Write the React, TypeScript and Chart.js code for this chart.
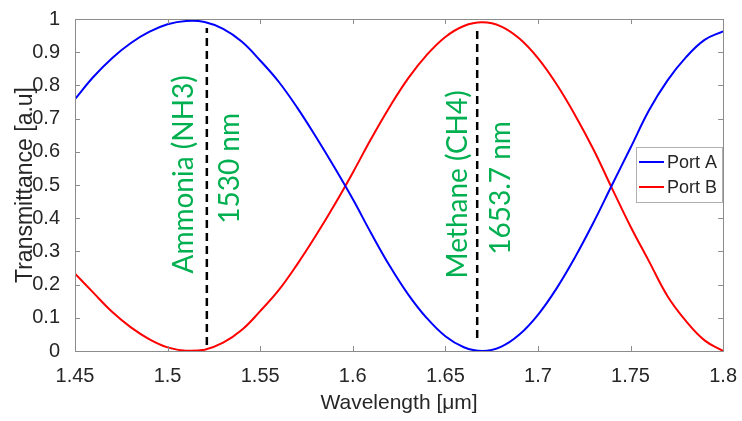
import { useEffect, useRef } from 'react';
import { Chart, registerables } from 'chart.js';

Chart.register(...registerables);

// ---- data ----
const wavelength = [
  1.45, 1.46, 1.47, 1.48, 1.49, 1.5, 1.51, 1.52, 1.53, 1.54, 1.55, 1.56,
  1.57, 1.58, 1.59, 1.6, 1.61, 1.62, 1.63, 1.64, 1.65, 1.66, 1.67, 1.68,
  1.69, 1.7, 1.71, 1.72, 1.73, 1.74, 1.75, 1.76, 1.77, 1.78, 1.79, 1.8,
];
const portA = [
  0.759, 0.826, 0.882, 0.927, 0.961, 0.984, 0.994, 0.991, 0.97, 0.932, 0.875, 0.811,
  0.733, 0.646, 0.554, 0.4575, 0.354, 0.256, 0.17, 0.099, 0.0445, 0.0114, 0.0, 0.0125,
  0.0495, 0.109, 0.188, 0.282, 0.387, 0.5, 0.612, 0.725, 0.815, 0.885, 0.937, 0.963,
];
const portB = [
  0.233, 0.175, 0.118, 0.072, 0.036, 0.011, 0.001, 0.004, 0.025, 0.063, 0.12, 0.183,
  0.261, 0.347, 0.439, 0.537, 0.64, 0.736, 0.822, 0.892, 0.946, 0.979, 0.99, 0.978,
  0.941, 0.882, 0.804, 0.711, 0.607, 0.49, 0.375, 0.27, 0.165, 0.09, 0.032, 0.0,
];
const xTicks = [1.45, 1.5, 1.55, 1.6, 1.65, 1.7, 1.75, 1.8];
const yTicks = [0, 0.1, 0.2, 0.3, 0.4, 0.5, 0.6, 0.7, 0.8, 0.9, 1];
const seriesNames = ['Port A', 'Port B'];
const markerWavelengths = [1.5212, 1.6672];
const ammoniaSpan = [0.018, 0.973];
const methaneSpan = [0.039, 0.979];
const annotations = [
  { text: 'Ammonia (NH3)', x: 1.5135, y: 0.532 },
  { text: '1530 nm', x: 1.5388, y: 0.55 },
  { text: 'Methane (CH4)', x: 1.6616, y: 0.502 },
  { text: '1653.7 nm', x: 1.6851, y: 0.491 },
];

const AXIS_FONT = '"Liberation Sans", Arial, Helvetica, sans-serif';
const TEXT_COLOR = '#262626';
const FRAME_COLOR = '#8c8c8c';

const framePlugin = {
  id: 'frame',
  afterDatasetsDraw(chart: any) {
    const { ctx, chartArea: a, scales } = chart;
    ctx.save();
    ctx.strokeStyle = FRAME_COLOR;
    ctx.lineWidth = 1;
    const tl = 5;
    ctx.beginPath();
    for (const v of xTicks) {
      const px = Math.round(scales.x.getPixelForValue(v)) + 0.5;
      ctx.moveTo(px, a.bottom);
      ctx.lineTo(px, a.bottom - tl);
      ctx.moveTo(px, a.top);
      ctx.lineTo(px, a.top + tl);
    }
    for (const v of yTicks) {
      const py = Math.round(scales.y.getPixelForValue(v)) + 0.5;
      ctx.moveTo(a.left, py);
      ctx.lineTo(a.left + tl, py);
      ctx.moveTo(a.right, py);
      ctx.lineTo(a.right - tl, py);
    }
    ctx.stroke();
    ctx.strokeRect(Math.round(a.left) + 0.5, Math.round(a.top) + 0.5, Math.round(a.right - a.left), Math.round(a.bottom - a.top));
    ctx.restore();
  },
};

const textPlugin = {
  id: 'gasText',
  afterDatasetsDraw(chart: any) {
    const { ctx, scales } = chart;
    ctx.save();
    ctx.fillStyle = '#00B050';
    ctx.font = '28px Lato, "Open Sans", sans-serif';
    ctx.textAlign = 'center';
    ctx.textBaseline = 'alphabetic';
    for (const t of annotations) {
      const px = scales.x.getPixelForValue(t.x);
      const py = scales.y.getPixelForValue(t.y);
      ctx.save();
      ctx.translate(px, py);
      ctx.rotate(-Math.PI / 2);
      ctx.fillText(t.text, 0, 0);
      ctx.restore();
    }
    ctx.restore();
  },
};

const legendPlugin = {
  id: 'boxLegend',
  afterDraw(chart: any) {
    const { ctx } = chart;
    ctx.save();
    const x0 = 636, y0 = 147, w = 86, h = 55;
    ctx.fillStyle = '#ffffff';
    ctx.fillRect(x0, y0, w, h);
    ctx.strokeStyle = '#b0b0b0';
    ctx.lineWidth = 1;
    ctx.strokeRect(x0 + 0.5, y0 + 0.5, w, h);
    const colors = ['#0000ff', '#ff0000'];
    const rows = [162, 187];
    ctx.font = '18px ' + AXIS_FONT;
    ctx.textBaseline = 'middle';
    ctx.textAlign = 'left';
    seriesNames.forEach((name, i) => {
      ctx.strokeStyle = colors[i];
      ctx.lineWidth = 2;
      ctx.beginPath();
      ctx.moveTo(x0 + 3, rows[i]);
      ctx.lineTo(x0 + 28, rows[i]);
      ctx.stroke();
      ctx.fillStyle = TEXT_COLOR;
      ctx.fillText(name, x0 + 31, rows[i] + 1);
    });
    ctx.restore();
  },
};

export default function App() {
  const ref = useRef<HTMLCanvasElement>(null);

  useEffect(() => {
    if (!ref.current) return;
    const chart = new Chart(ref.current, {
      type: 'line',
      data: {
        datasets: [
          {
            label: seriesNames[0],
            data: wavelength.map((x, i) => ({ x, y: portA[i] })),
            borderColor: '#0000ff',
            borderWidth: 2,
            pointRadius: 0,
            tension: 0.4,
            order: 2,
          },
          {
            label: seriesNames[1],
            data: wavelength.map((x, i) => ({ x, y: portB[i] })),
            borderColor: '#ff0000',
            borderWidth: 2,
            pointRadius: 0,
            tension: 0.4,
            order: 2,
          },
          {
            label: 'NH3 marker',
            data: ammoniaSpan.map((y) => ({ x: markerWavelengths[0], y })),
            borderColor: '#000000',
            borderWidth: 2.5,
            borderDash: [8, 5],
            pointRadius: 0,
            order: 1,
          },
          {
            label: 'CH4 marker',
            data: methaneSpan.map((y) => ({ x: markerWavelengths[1], y })),
            borderColor: '#000000',
            borderWidth: 2.5,
            borderDash: [8, 5],
            pointRadius: 0,
            order: 1,
          },
        ],
      },
      options: {
        animation: false,
        responsive: false,
        layout: { padding: { top: 18, right: 17, left: 0, bottom: 0 } },
        plugins: {
          legend: { display: false },
          tooltip: { enabled: false },
        },
        scales: {
          x: {
            type: 'linear',
            min: 1.45,
            max: 1.8,
            afterBuildTicks: (s: any) => {
              s.ticks = xTicks.map((value) => ({ value }));
            },
            afterFit: (s: any) => {
              s.height = 70;
            },
            grid: { display: false },
            border: { display: false },
            ticks: {
              color: TEXT_COLOR,
              padding: 5,
              maxRotation: 0,
              font: { family: AXIS_FONT, size: 20 },
              callback: (v: any) => String(v),
            },
            title: {
              display: true,
              text: 'Wavelength [μm]',
              color: TEXT_COLOR,
              font: { family: AXIS_FONT, size: 21 },
              padding: { top: 0, bottom: 5 },
            },
          },
          y: {
            min: 0,
            max: 1,
            afterBuildTicks: (s: any) => {
              s.ticks = yTicks.map((value) => ({ value }));
            },
            afterFit: (s: any) => {
              s.width = 75;
            },
            grid: { display: false },
            border: { display: false },
            ticks: {
              color: TEXT_COLOR,
              padding: 7,
              font: { family: AXIS_FONT, size: 20 },
              callback: (v: any) => String(v),
            },
            title: {
              display: true,
              text: 'Transmittance [a.u]',
              color: TEXT_COLOR,
              font: { family: AXIS_FONT, size: 23 },
              padding: { top: 12, bottom: 0 },
            },
          },
        },
      },
      plugins: [framePlugin, textPlugin, legendPlugin],
    } as any);
    return () => chart.destroy();
  }, []);

  return (
    <div style={{ position: 'fixed', left: 0, top: 0, width: 742, height: 421, background: '#fff' }}>
      <canvas ref={ref} width={742} height={421} />
    </div>
  );
}
